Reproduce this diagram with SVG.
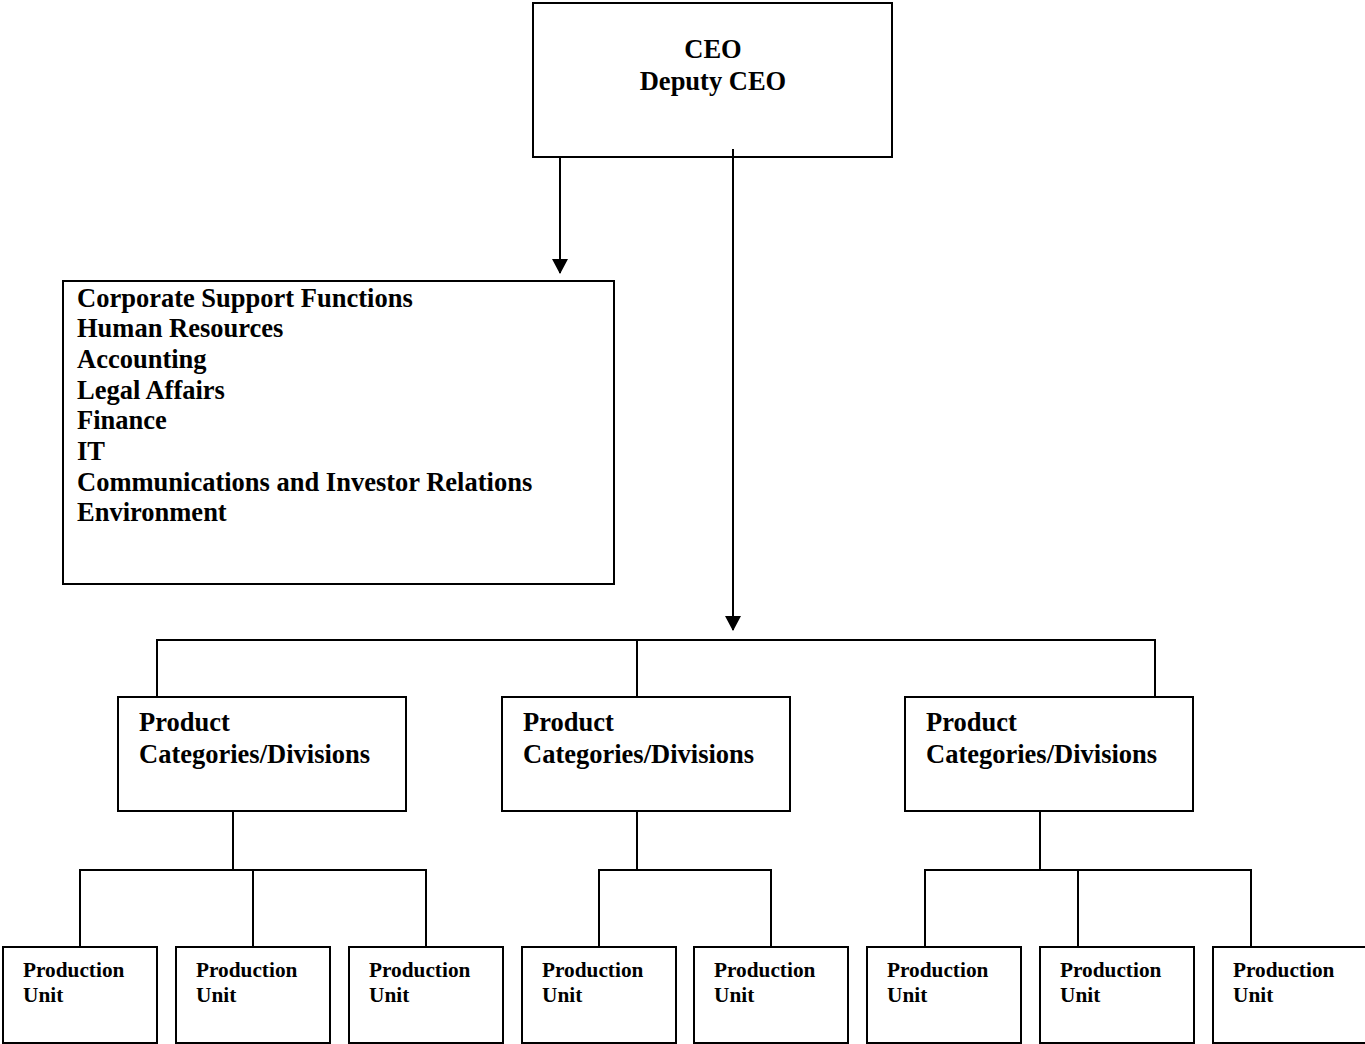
<svg xmlns="http://www.w3.org/2000/svg" width="1365" height="1044" viewBox="0 0 1365 1044">
  <style>
    .box { fill: #fff; stroke: #000; stroke-width: 2; }
    .ln { fill: none; stroke: #000; stroke-width: 2; }
    .t { font-family: "Liberation Serif", "Times New Roman", serif; font-weight: bold; fill: #000; }
    .big { font-size: 26.5px; }
    .small { font-size: 21.3px; }
  </style>
  <defs>
    <marker id="arrow" markerWidth="16" markerHeight="16" refX="14" refY="8" orient="auto" markerUnits="userSpaceOnUse">
      <path d="M0,0 L15,8 L0,16 Z" fill="#000"/>
    </marker>
  </defs>
  <rect width="1365" height="1044" fill="#fff"/>

  <g id="ceo">
    <rect class="box" x="533" y="3" width="359" height="154"/>
    <text class="t big" x="713" y="58" text-anchor="middle">CEO</text>
    <text class="t big" x="713" y="90" text-anchor="middle">Deputy CEO</text>
  </g>

  <g id="support">
    <rect class="box" x="63" y="281" width="551" height="303"/>
    <text class="t big" x="77" y="307">Corporate Support Functions</text>
    <text class="t big" x="77" y="337">Human Resources</text>
    <text class="t big" x="77" y="368">Accounting</text>
    <text class="t big" x="77" y="399">Legal Affairs</text>
    <text class="t big" x="77" y="429">Finance</text>
    <text class="t big" x="77" y="460">IT</text>
    <text class="t big" x="77" y="491">Communications and Investor Relations</text>
    <text class="t big" x="77" y="521">Environment</text>
  </g>

  <g id="division-1">
    <rect class="box" x="118" y="697" width="288" height="114"/>
    <text class="t big" x="139" y="731">Product</text>
    <text class="t big" x="139" y="763">Categories/Divisions</text>
  </g>
  <g id="division-2">
    <rect class="box" x="502" y="697" width="288" height="114"/>
    <text class="t big" x="523" y="731">Product</text>
    <text class="t big" x="523" y="763">Categories/Divisions</text>
  </g>
  <g id="division-3">
    <rect class="box" x="905" y="697" width="288" height="114"/>
    <text class="t big" x="926" y="731">Product</text>
    <text class="t big" x="926" y="763">Categories/Divisions</text>
  </g>

  <g id="unit-1">
    <rect class="box" x="3" y="947" width="154" height="96"/>
    <text class="t small" x="23" y="977">Production</text>
    <text class="t small" x="23" y="1002">Unit</text>
  </g>
  <g id="unit-2">
    <rect class="box" x="176" y="947" width="154" height="96"/>
    <text class="t small" x="196" y="977">Production</text>
    <text class="t small" x="196" y="1002">Unit</text>
  </g>
  <g id="unit-3">
    <rect class="box" x="349" y="947" width="154" height="96"/>
    <text class="t small" x="369" y="977">Production</text>
    <text class="t small" x="369" y="1002">Unit</text>
  </g>
  <g id="unit-4">
    <rect class="box" x="522" y="947" width="154" height="96"/>
    <text class="t small" x="542" y="977">Production</text>
    <text class="t small" x="542" y="1002">Unit</text>
  </g>
  <g id="unit-5">
    <rect class="box" x="694" y="947" width="154" height="96"/>
    <text class="t small" x="714" y="977">Production</text>
    <text class="t small" x="714" y="1002">Unit</text>
  </g>
  <g id="unit-6">
    <rect class="box" x="867" y="947" width="154" height="96"/>
    <text class="t small" x="887" y="977">Production</text>
    <text class="t small" x="887" y="1002">Unit</text>
  </g>
  <g id="unit-7">
    <rect class="box" x="1040" y="947" width="154" height="96"/>
    <text class="t small" x="1060" y="977">Production</text>
    <text class="t small" x="1060" y="1002">Unit</text>
  </g>
  <g id="unit-8">
    <rect class="box" x="1213" y="947" width="154" height="96"/>
    <text class="t small" x="1233" y="977">Production</text>
    <text class="t small" x="1233" y="1002">Unit</text>
  </g>

  <!-- connectors, drawn last so the CEO stub shows inside its box -->
  <g id="connectors">
    <line class="ln" x1="560" y1="157" x2="560" y2="273" marker-end="url(#arrow)"/>
    <line class="ln" x1="733" y1="149" x2="733" y2="630" marker-end="url(#arrow)"/>
    <path class="ln" d="M157,697 V640 H1155 V697 M637,640 V697"/>
    <path class="ln" d="M233,811 V870 M80,946 V870 H426 V946 M253,870 V946"/>
    <path class="ln" d="M637,811 V870 M599,946 V870 H771 V946"/>
    <path class="ln" d="M1040,811 V870 M925,946 V870 H1251 V946 M1078,870 V946"/>
  </g>
</svg>
